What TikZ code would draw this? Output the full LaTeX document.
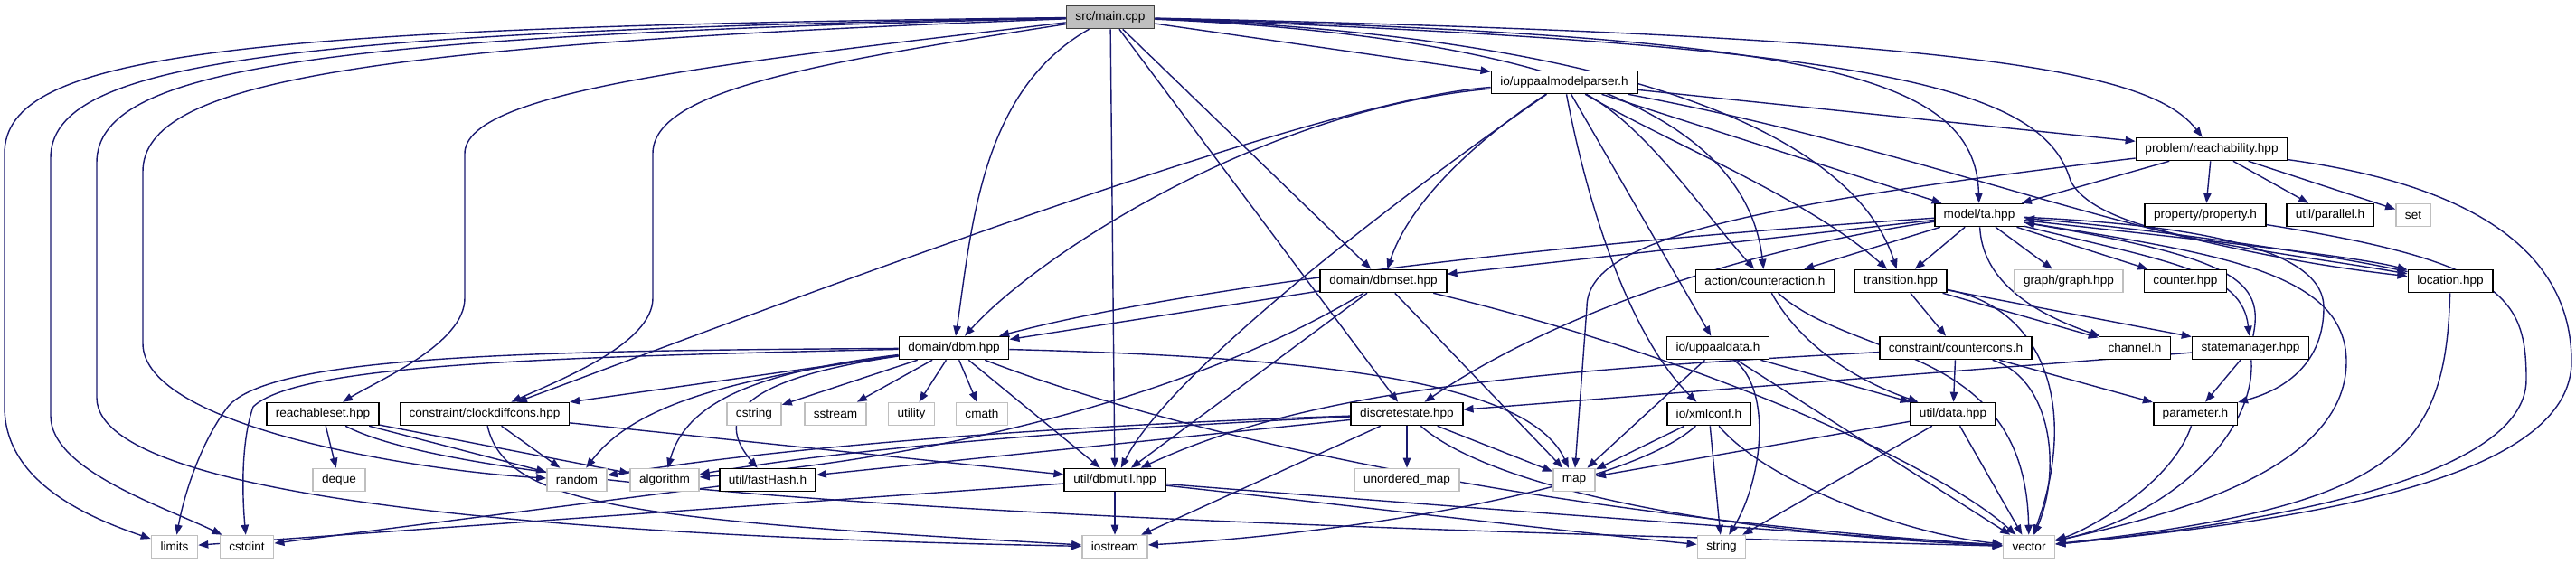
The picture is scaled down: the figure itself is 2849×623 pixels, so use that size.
\documentclass[tikz,border=0pt]{standalone}
\usepackage{fontspec}
\setmainfont{Liberation Sans}
\usetikzlibrary{arrows.meta,backgrounds}
\definecolor{edgeblue}{HTML}{191970}
\definecolor{boxgray}{HTML}{BFBFBF}
\definecolor{rootline}{HTML}{404040}
\tikzset{
  hdr/.style={rectangle,draw=black,fill=white,line width=0.8pt,
              minimum height=12.5pt,inner xsep=5pt,inner ysep=0pt,
              font=\fontsize{6.8}{8}\selectfont,text=black},
  sys/.style={hdr,draw=boxgray},
  root/.style={hdr,fill=boxgray,draw=rootline},
  inc/.style={-{Triangle[length=5.5pt,width=4.2pt]},line width=0.7pt,
              color=edgeblue},
}
\begin{document}
\begin{tikzpicture}[x=0.5pt,y=-0.5pt]
  \useasboundingbox (0,0) rectangle (2849,623);

  %% ── rank 0-2 ─────────────────────────────────────────────────────────────
  \node[root] (main)   at (1228,19)  {src/main.cpp};
  \node[hdr]  (parser) at (1730,91)  {io/uppaalmodelparser.h};
  \node[hdr]  (reach)  at (2446,165) {problem/reachability.hpp};

  %% ── rank 3 ───────────────────────────────────────────────────────────────
  \node[hdr] (ta)   at (2189,238) {model/ta.hpp};
  \node[hdr] (prop) at (2439,238) {property/property.h};
  \node[hdr] (par)  at (2577,238) {util/parallel.h};
  \node[sys] (set)  at (2669,238) {set};

  %% ── rank 4 ───────────────────────────────────────────────────────────────
  \node[hdr] (dbmset)  at (1530,311) {domain/dbmset.hpp};
  \node[hdr] (cact)    at (1952,311) {action/counteraction.h};
  \node[hdr] (trans)   at (2102,311) {transition.hpp};
  \node[sys] (graph)   at (2288,311) {graph/graph.hpp};
  \node[hdr] (counter) at (2417,311) {counter.hpp};
  \node[hdr] (loc)     at (2710,311) {location.hpp};

  %% ── rank 5 ───────────────────────────────────────────────────────────────
  \node[hdr] (dbm)   at (1055,385) {domain/dbm.hpp};
  \node[hdr] (udata) at (1900,385) {io/uppaaldata.h};
  \node[hdr] (ccons) at (2163,385) {constraint/countercons.h};
  \node[hdr] (chan)  at (2361,385) {channel.h};
  \node[hdr] (smgr)  at (2489,385) {statemanager.hpp};

  %% ── rank 6 ───────────────────────────────────────────────────────────────
  \node[hdr] (rset)    at (357,458)  {reachableset.hpp};
  \node[hdr] (cdc)     at (536,458)  {constraint/clockdiffcons.hpp};
  \node[sys] (cstring) at (834,458)  {cstring};
  \node[sys] (sstream) at (924,458)  {sstream};
  \node[sys] (utility) at (1008,458) {utility};
  \node[sys] (cmath)   at (1086,458) {cmath};
  \node[hdr] (dstate)  at (1556,458) {discretestate.hpp};
  \node[hdr] (xml)     at (1890,458) {io/xmlconf.h};
  \node[hdr] (data)    at (2160,458) {util/data.hpp};
  \node[hdr] (param)   at (2428,458) {parameter.h};

  %% ── rank 7 ───────────────────────────────────────────────────────────────
  \node[sys] (deque)   at (375,531)  {deque};
  \node[sys] (random)  at (638,531)  {random};
  \node[sys] (algo)    at (735,531)  {algorithm};
  \node[hdr] (fhash)   at (849,531)  {util/fastHash.h};
  \node[hdr] (dbmutil) at (1233,531) {util/dbmutil.hpp};
  \node[sys] (umap)    at (1556,531) {unordered\_map};
  \node[sys] (map)     at (1741,531) {map};

  %% ── rank 8 ───────────────────────────────────────────────────────────────
  \node[sys] (limits)   at (193,605)  {limits};
  \node[sys] (cstdint)  at (273,605)  {cstdint};
  \node[sys] (iostream) at (1233,605) {iostream};
  \node[sys] (string)   at (1904,605) {string};
  \node[sys] (vector)   at (2244,605) {vector};

  \begin{scope}[on background layer]
  %% ── src/main.cpp ─────────────────────────────────────────────────────────
  \draw[inc] (main) .. controls (250,30) and (5,60) .. (5,170)
    -- (5,450) .. controls (5,530) and (90,570) .. (limits);
  \draw[inc] (main) .. controls (300,35) and (56,70) .. (56,175)
    -- (56,460) .. controls (56,520) and (180,560) .. (cstdint);
  \draw[inc] (main) .. controls (350,40) and (107,75) .. (107,180)
    -- (107,440) .. controls (107,560) and (700,595) .. (iostream);
  \draw[inc] (main) .. controls (400,50) and (158,90) .. (158,190)
    -- (158,380) .. controls (158,470) and (450,520) .. (random);
  \draw[inc] (main) .. controls (800,70) and (514,100) .. (514,170)
    -- (514,330) .. controls (514,380) and (420,420) .. (rset);
  \draw[inc] (main) .. controls (900,70) and (722,100) .. (722,170)
    -- (722,330) .. controls (722,380) and (620,420) .. (cdc);
  \draw[inc] (main) .. controls (1085,100) and (1075,250) .. (dbm);
  \draw[inc] (main) -- (dbmutil);
  \draw[inc] (main) -- (dstate);
  \draw[inc] (main) -- (dbmset);
  \draw[inc] (main) -- (parser);
  \draw[inc] (main) .. controls (1700,40) and (1930,120) .. (cact);
  \draw[inc] (main) .. controls (1800,40) and (2050,150) .. (trans);
  \draw[inc] (main) .. controls (2000,40) and (2185,80) .. (ta);
  \draw[inc] (main) .. controls (2100,50) and (2260,100) .. (2290,200)
    .. controls (2320,260) and (2500,275) .. (loc);
  \draw[inc] (main) .. controls (2200,40) and (2380,80) .. (reach);

  %% ── io/uppaalmodelparser.h ───────────────────────────────────────────────
  \draw[inc] (parser) .. controls (1450,110) and (800,360) .. (cdc);
  \draw[inc] (parser) .. controls (1400,120) and (1150,280) .. (dbm);
  \draw[inc] (parser) .. controls (1600,180) and (1300,400) .. (dbmutil);
  \draw[inc] (parser) .. controls (1640,150) and (1560,220) .. (dbmset);
  \draw[inc] (parser) .. controls (1760,250) and (1810,380) .. (xml);
  \draw[inc] (parser) -- (udata);
  \draw[inc] (parser) .. controls (1820,140) and (1880,230) .. (cact);
  \draw[inc] (parser) .. controls (1850,160) and (2000,220) .. (trans);
  \draw[inc] (parser) -- (ta);
  \draw[inc] (parser) -- (reach);
  \draw[inc] (parser) .. controls (2150,170) and (2350,270) .. (loc);

  %% ── problem/reachability.hpp ─────────────────────────────────────────────
  \draw[inc] (reach) -- (ta);
  \draw[inc] (reach) -- (prop);
  \draw[inc] (reach) -- (par);
  \draw[inc] (reach) -- (set);
  \draw[inc] (reach) .. controls (1900,230) and (1755,270) .. (1755,340)
    -- (map);
  \draw[inc] (reach) .. controls (2700,200) and (2844,260) .. (2844,400)
    .. controls (2844,540) and (2500,580) .. (vector);

  %% ── model/ta.hpp ─────────────────────────────────────────────────────────
  \draw[inc] (ta) -- (graph);
  \draw[inc] (ta) -- (counter);
  \draw[inc] (ta) -- (trans);
  \draw[inc] (ta) -- (cact);
  \draw[inc] (ta) -- (dbmset);
  \draw[inc] (ta) .. controls (1700,270) and (1300,320) .. (dbm);
  \draw[inc] (ta) .. controls (1900,280) and (1700,360) .. (dstate);
  \draw[inc] (ta) .. controls (2400,262) and (2600,282) .. (loc);
  \draw[inc] (ta) .. controls (2400,290) and (2480,300) .. (smgr);
  \draw[inc] (ta) .. controls (2192,300) and (2230,340) .. (chan);
  \draw[inc] (ta) .. controls (2450,250) and (2570,280) .. (2570,340)
    .. controls (2570,400) and (2530,430) .. (param);
  \draw[inc] (ta) .. controls (2450,280) and (2595,300) .. (2595,400)
    .. controls (2595,520) and (2400,570) .. (vector);

  %% ── rank 4 headers ───────────────────────────────────────────────────────
  \draw[inc] (dbmset) -- (dbm);
  \draw[inc] (dbmset) -- (dbmutil);
  \draw[inc] (dbmset) -- (map);
  \draw[inc] (dbmset) .. controls (1300,450) and (1000,510) .. (algo);
  \draw[inc] (dbmset) .. controls (1900,400) and (2150,520) .. (vector);
  \draw[inc] (cact) .. controls (1990,380) and (2050,420) .. (data);
  \draw[inc] (cact) .. controls (2050,400) and (2240,380) .. (vector);
  \draw[inc] (trans) -- (ccons);
  \draw[inc] (trans) -- (chan);
  \draw[inc] (trans) -- (smgr);
  \draw[inc] (trans) .. controls (2260,340) and (2300,450) .. (vector);
  \draw[inc] (loc) .. controls (2560,278) and (2350,250) .. (ta);
  \draw[inc] (loc) .. controls (2705,500) and (2650,560) .. (vector);
  \draw[inc] (prop) .. controls (2770,290) and (2794,330) .. (2794,420)
    .. controls (2794,530) and (2500,580) .. (vector);

  %% ── domain/dbm.hpp ───────────────────────────────────────────────────────
  \draw[inc] (dbm) .. controls (600,388) and (300,392) .. (252,450)
    .. controls (225,485) and (205,540) .. (limits);
  \draw[inc] (dbm) .. controls (620,395) and (330,402) .. (280,450)
    .. controls (266,490) and (268,550) .. (cstdint);
  \draw[inc] (dbm) -- (cdc);
  \draw[inc] (dbm) .. controls (800,420) and (700,450) .. (random);
  \draw[inc] (dbm) .. controls (850,410) and (760,440) .. (algo);
  \draw[inc] (dbm) .. controls (850,415) and (780,450) .. (fhash);
  \draw[inc] (dbm) -- (cstring);
  \draw[inc] (dbm) -- (sstream);
  \draw[inc] (dbm) -- (utility);
  \draw[inc] (dbm) -- (cmath);
  \draw[inc] (dbm) -- (dbmutil);
  \draw[inc] (dbm) .. controls (1450,395) and (1690,420) .. (map);
  \draw[inc] (dbm) .. controls (1300,480) and (1700,570) .. (vector);

  %% ── rank 5 headers ───────────────────────────────────────────────────────
  \draw[inc] (udata) -- (data);
  \draw[inc] (udata) -- (map);
  \draw[inc] (udata) .. controls (1960,430) and (1950,530) .. (string);
  \draw[inc] (udata) -- (vector);
  \draw[inc] (ccons) .. controls (1700,410) and (1450,430) .. (dbmutil);
  \draw[inc] (ccons) -- (data);
  \draw[inc] (ccons) -- (param);
  \draw[inc] (ccons) .. controls (2270,420) and (2280,520) .. (vector);
  \draw[inc] (smgr) .. controls (2505,310) and (2470,285) .. (ta);
  \draw[inc] (smgr) -- (dstate);
  \draw[inc] (smgr) -- (param);
  \draw[inc] (smgr) .. controls (2495,480) and (2400,570) .. (vector);

  %% ── rank 6 headers ───────────────────────────────────────────────────────
  \draw[inc] (rset) -- (deque);
  \draw[inc] (rset) -- (random);
  \draw[inc] (rset) -- (algo);
  \draw[inc] (rset) .. controls (550,560) and (1500,585) .. (vector);
  \draw[inc] (cdc) -- (random);
  \draw[inc] (cdc) .. controls (560,560) and (700,575) .. (iostream);
  \draw[inc] (cdc) -- (dbmutil);
  \draw[inc] (dstate) -- (umap);
  \draw[inc] (dstate) -- (map);
  \draw[inc] (dstate) -- (iostream);
  \draw[inc] (dstate) -- (fhash);
  \draw[inc] (dstate) .. controls (1200,470) and (900,490) .. (random);
  \draw[inc] (dstate) .. controls (1200,475) and (950,495) .. (algo);
  \draw[inc] (dstate) .. controls (1650,540) and (1900,590) .. (vector);
  \draw[inc] (xml) -- (map);
  \draw[inc] (xml) -- (string);
  \draw[inc] (xml) .. controls (1800,540) and (1500,590) .. (iostream);
  \draw[inc] (xml) .. controls (1950,530) and (2100,590) .. (vector);
  \draw[inc] (data) -- (map);
  \draw[inc] (data) -- (string);
  \draw[inc] (data) -- (vector);
  \draw[inc] (param) .. controls (2400,540) and (2300,590) .. (vector);

  %% ── rank 7 headers ───────────────────────────────────────────────────────
  \draw[inc] (fhash) -- (cstdint);
  \draw[inc] (dbmutil) -- (iostream);
  \draw[inc] (dbmutil) -- (limits);
  \draw[inc] (dbmutil) .. controls (1500,560) and (1750,590) .. (string);
  \draw[inc] (dbmutil) .. controls (1600,560) and (2000,590) .. (vector);
  \end{scope}

\end{tikzpicture}
\end{document}
